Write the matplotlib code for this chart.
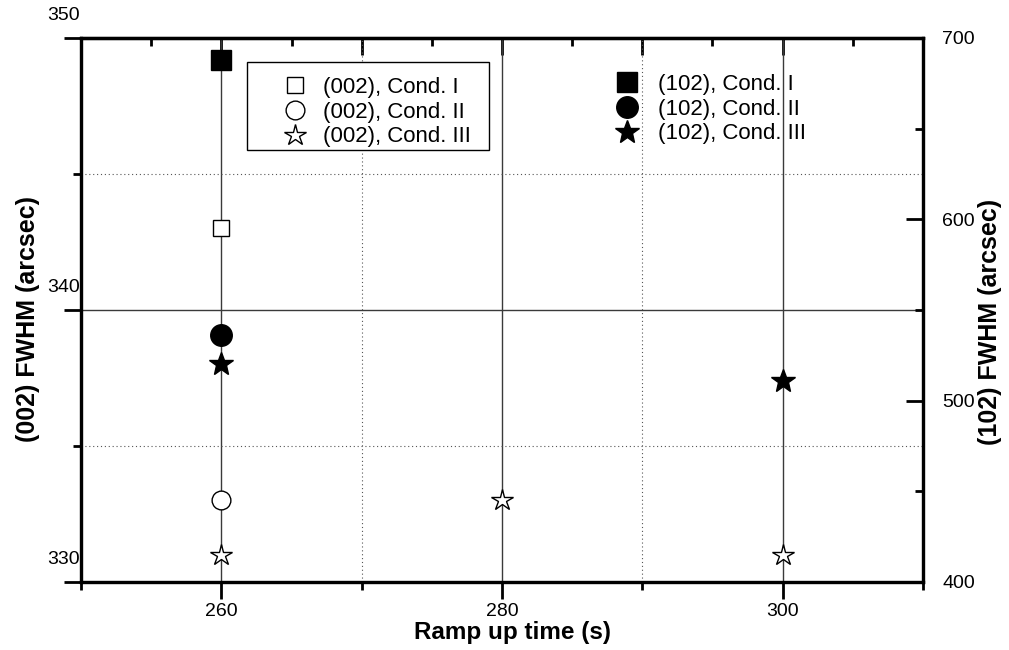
import matplotlib
matplotlib.use("Agg")
import matplotlib.pyplot as plt
from matplotlib.ticker import MultipleLocator, NullFormatter
from matplotlib.transforms import offset_copy
from matplotlib.patches import Rectangle

plt.rcParams['font.family'] = ['Liberation Sans', 'DejaVu Sans']

# Ramp-up times (s)
ramp_cond1 = [260]
ramp_cond2 = [260]
ramp_cond3 = [260, 280, 300]

# (002) FWHM, arcsec (left axis)
fwhm002_cond1 = [343.0]
fwhm002_cond2 = [333.0]
fwhm002_cond3 = [331.0, 333.0, 331.0]

# (102) FWHM, arcsec (right axis)
ramp102_cond3 = [260, 300]
fwhm102_cond1 = [688.0]
fwhm102_cond2 = [536.0]
fwhm102_cond3 = [520.0, 511.0]

left_ticks = [330, 340, 350]
right_ticks = [400, 500, 600, 700]
x_ticks = [260, 280, 300]

W, H = 1009, 650
fig = plt.figure(figsize=(W / 100, H / 100), dpi=100)
ax = fig.add_axes([81 / W, 1 - 582 / H, (923 - 81) / W, (582 - 38) / H])

ax.set_xlim(250, 310)
ax.set_ylim(330, 350)
ax.xaxis.set_minor_locator(MultipleLocator(10))
ax.yaxis.set_major_locator(MultipleLocator(10))
ax.yaxis.set_minor_locator(MultipleLocator(5))
ax.set_xticks(x_ticks)

# grid: solid at major, dotted at minor
ax.grid(which='major', linestyle='-', color='#3a3a3a', linewidth=1.0, zorder=0)
ax.grid(which='minor', linestyle=(0, (1, 2.5)), color='#555555', linewidth=0.8, zorder=0)
ax.set_axisbelow(True)

for s in ax.spines.values():
    s.set_linewidth(2.3)

ax.tick_params(axis='x', which='major', direction='out', length=12, width=2.0,
               labelsize=14, pad=3, top=False)
ax.tick_params(axis='x', which='minor', direction='out', length=6, width=2.0, top=False)
ax.tick_params(axis='y', which='major', direction='out', length=12, width=2.0,
               labelleft=False, right=False)
ax.tick_params(axis='y', which='minor', direction='out', length=6, width=2.0, right=False)

# left tick labels sit just above their ticks
ytrans = offset_copy(ax.get_yaxis_transform(), fig=fig, x=-1, y=22, units='dots')
for v in left_ticks:
    ax.text(0, v, f"{v}", transform=ytrans, ha='right', va='center', fontsize=14)

# top axis ticks (inward, unlabeled)
top = ax.secondary_xaxis('top')
top.xaxis.set_major_locator(MultipleLocator(10))
top.xaxis.set_minor_locator(MultipleLocator(5))
top.xaxis.set_major_formatter(NullFormatter())
top.tick_params(which='major', direction='in', length=12, width=2.0)
top.tick_params(which='minor', direction='in', length=6, width=2.0)
top.spines['top'].set_linewidth(2.3)

# (002) series, open markers
h1, = ax.plot(ramp_cond1, fwhm002_cond1, ls='none', marker='s', ms=12, mfc='white',
              mec='black', mew=1.0, zorder=5, label='(002), Cond. I')
h2, = ax.plot(ramp_cond2, fwhm002_cond2, ls='none', marker='o', ms=13.5, mfc='white',
              mec='black', mew=1.0, zorder=5, label='(002), Cond. II')
h3, = ax.plot(ramp_cond3, fwhm002_cond3, ls='none', marker='*', ms=16, mfc='white',
              mec='black', mew=1.0, zorder=5, label='(002), Cond. III')

# (102) series on the right axis, filled markers
ax2 = ax.twinx()
ax2.set_ylim(400, 700)
ax2.set_yticks(right_ticks)
ax2.yaxis.set_minor_locator(MultipleLocator(50))
ax2.tick_params(axis='y', which='major', direction='in', length=12, width=2.0,
                labelsize=14, pad=14)
ax2.tick_params(axis='y', which='minor', direction='in', length=6, width=2.0)
for s in ax2.spines.values():
    s.set_linewidth(2.3)

k1, = ax2.plot(ramp_cond1, fwhm102_cond1, ls='none', marker='s', ms=14, color='black',
               zorder=5, label='(102), Cond. I')
k2, = ax2.plot(ramp_cond2, fwhm102_cond2, ls='none', marker='o', ms=15.5, color='black',
               zorder=5, label='(102), Cond. II')
k3, = ax2.plot(ramp102_cond3, fwhm102_cond3, ls='none', marker='*', ms=18, color='black',
               zorder=5, label='(102), Cond. III')


def ax_x(px):
    return (px - 81) / (923 - 81)


def ax_y(py):
    return 1 - (py - 38) / (582 - 38)


# framed box behind the (002) legend
box = Rectangle((ax_x(247), ax_y(150)), ax_x(489) - ax_x(247), ax_y(62) - ax_y(150),
                transform=ax2.transAxes, facecolor='white', edgecolor='black',
                linewidth=1.0, zorder=4)
ax2.add_patch(box)

leg_kw = dict(loc='upper left', fontsize=16, frameon=False, labelspacing=0.165,
              handlelength=1.2, borderpad=0, borderaxespad=0)
leg1 = ax2.legend(handles=[h1, h2, h3], bbox_to_anchor=(ax_x(282), ax_y(77)),
                  handletextpad=0.66, **leg_kw)
leg1.set_zorder(6)
ax2.add_artist(leg1)
leg2 = ax2.legend(handles=[k1, k2, k3], bbox_to_anchor=(ax_x(614), ax_y(74)),
                  handletextpad=0.8, **leg_kw)
leg2.set_zorder(6)

fig.text(512 / W, 1 - 632 / H, 'Ramp up time (s)', ha='center', va='center',
         fontsize=17.5, fontweight='bold')
fig.text(28 / W, 1 - 319 / H, '(002) FWHM (arcsec)', ha='center', va='center',
         rotation=90, fontsize=18, fontweight='bold')
fig.text(990 / W, 1 - 322 / H, '(102) FWHM (arcsec)', ha='center', va='center',
         rotation=90, fontsize=18, fontweight='bold')

fig.savefig('out.png', dpi=100)
